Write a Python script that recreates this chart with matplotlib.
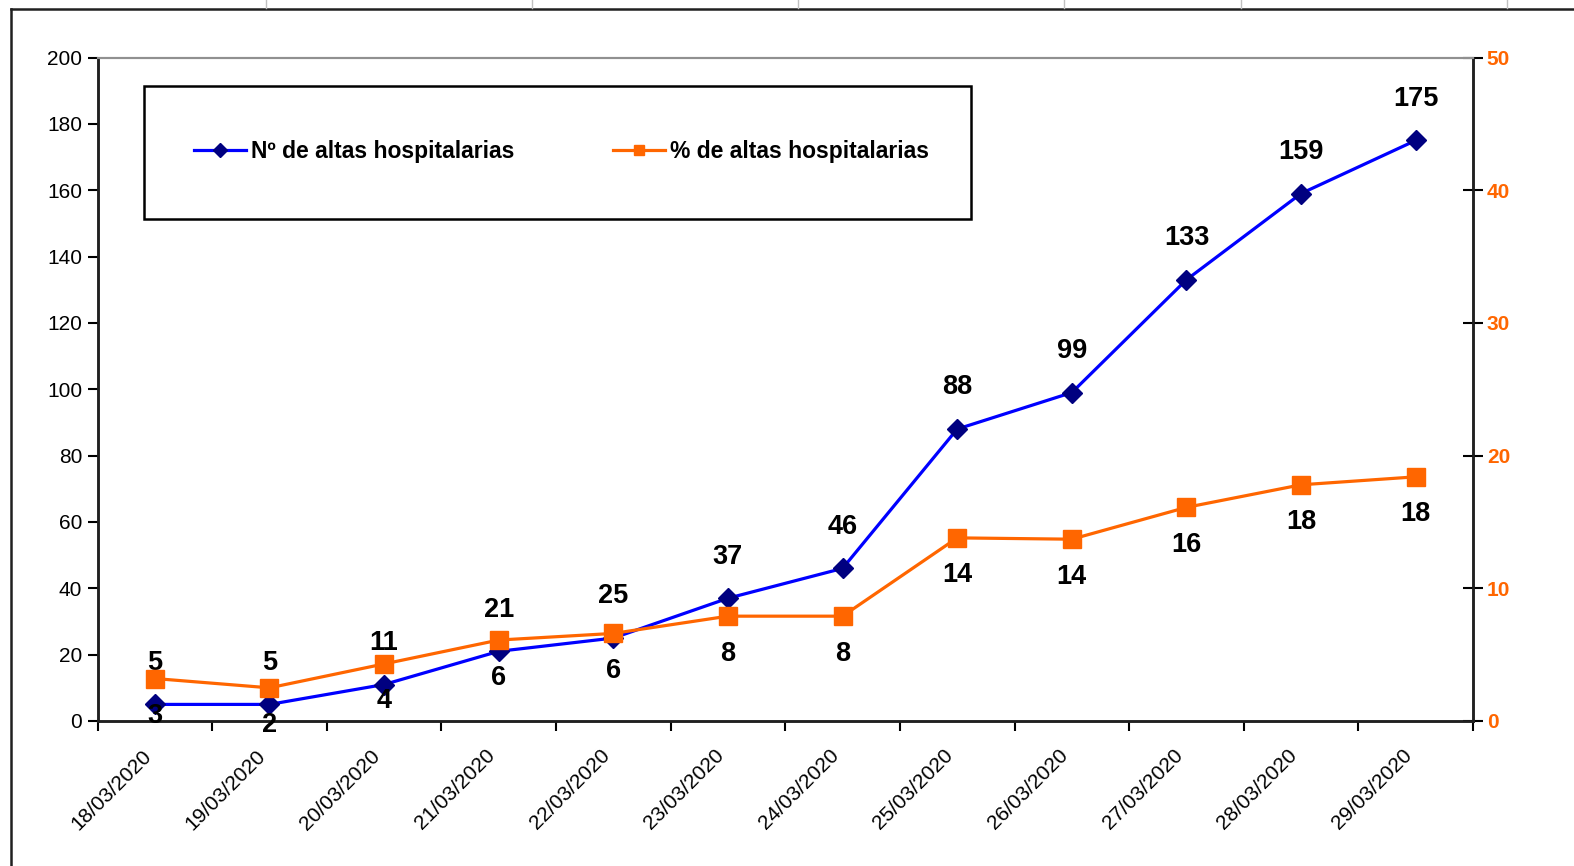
import matplotlib
matplotlib.use('Agg')
import matplotlib.pyplot as plt
from matplotlib.lines import Line2D
from matplotlib.patches import Rectangle

# datos del gráfico
fechas = ['18/03/2020', '19/03/2020', '20/03/2020', '21/03/2020', '22/03/2020', '23/03/2020',
          '24/03/2020', '25/03/2020', '26/03/2020', '27/03/2020', '28/03/2020', '29/03/2020']
altas = [5, 5, 11, 21, 25, 37, 46, 88, 99, 133, 159, 175]
pct_altas = [3.2, 2.5, 4.3, 6.1, 6.6, 7.9, 7.9, 13.8, 13.7, 16.1, 17.8, 18.4]
pct_etiquetas = [3, 2, 4, 6, 6, 8, 8, 14, 14, 16, 18, 18]
ticks_izq = [0, 20, 40, 60, 80, 100, 120, 140, 160, 180, 200]
ticks_der = [0, 10, 20, 30, 40, 50]

AZUL = '#0000FF'
AZUL_OSC = '#000080'
NARANJA = '#FF6600'

plt.rcParams['font.family'] = ['Liberation Sans', 'DejaVu Sans']

W, H = 1574, 866
fig = plt.figure(figsize=(W / 100, H / 100), dpi=100)
ax1 = fig.add_axes([97.5 / W, 1 - 721 / H, 1375.5 / W, 663.5 / H])
ax2 = ax1.twinx()

x = list(range(len(fechas)))

ax1.plot(x, altas, color=AZUL, lw=2.3, marker='D', ms=10.5,
         markerfacecolor=AZUL_OSC, markeredgecolor=AZUL_OSC, zorder=3)
ax2.plot(x, pct_altas, color=NARANJA, lw=2.3, marker='s', ms=13.5,
         markerfacecolor=NARANJA, markeredgecolor=NARANJA, zorder=3)

for xi, v in zip(x, altas):
    ax1.annotate(str(v), (xi, v), xytext=(0, 30), textcoords='offset points',
                 ha='center', va='center', fontsize=19.5, fontweight='bold',
                 color='black')
for xi, v, lab in zip(x, pct_altas, pct_etiquetas):
    ax2.annotate(str(lab), (xi, v), xytext=(0, -27), textcoords='offset points',
                 ha='center', va='center', fontsize=19.5, fontweight='bold',
                 color='black')

# ejes
ax1.set_xlim(-0.5, len(fechas) - 0.5)
ax1.set_ylim(0, 200)
ax2.set_ylim(0, 50)
ax1.set_yticks(ticks_izq)
ax2.set_yticks(ticks_der)
ax1.set_xticks([i - 0.5 for i in range(len(fechas) + 1)])
ax1.set_xticklabels([])
ax1.set_xticks(x, minor=True)
ax1.set_xticklabels(fechas, minor=True, rotation=45, ha='right', va='top',
                    fontsize=15)
ax1.tick_params(axis='x', which='major', direction='out', length=7, width=1.5)
ax1.tick_params(axis='x', which='minor', length=0, pad=18)
ax1.tick_params(axis='y', direction='out', length=7, width=1.5, labelsize=15, pad=4)
ax2.tick_params(axis='y', direction='inout', length=14, width=1.5, labelsize=15,
                labelcolor=NARANJA, pad=3)
for t in ax2.get_yticklabels():
    t.set_fontweight('bold')

for a in (ax1, ax2):
    a.spines['top'].set_color('#909090')
    a.spines['top'].set_linewidth(1.5)
    for s in ('left', 'right', 'bottom'):
        a.spines[s].set_linewidth(1.8)
        a.spines[s].set_color('#202020')

# leyenda
ax1.add_patch(Rectangle((46 / 1371, (718 - 218) / 661), 825 / 1371, 133 / 661,
                        transform=ax1.transAxes, fill=False, edgecolor='black',
                        lw=1.8, zorder=4))
handles = [Line2D([], [], color=AZUL, lw=2.3, marker='D', ms=7,
                  markerfacecolor=AZUL_OSC, markeredgecolor=AZUL_OSC),
           Line2D([], [], color=NARANJA, lw=2.3, marker='s', ms=7,
                  markerfacecolor=NARANJA, markeredgecolor=NARANJA)]
ax1.legend(handles, ['Nº de altas hospitalarias', '% de altas hospitalarias'],
           ncol=2, loc='center left', bbox_to_anchor=(96 / 1371, (718 - 151) / 661),
           frameon=False, borderpad=0, borderaxespad=0, handlelength=2.27,
           handletextpad=0.22, columnspacing=4.3,
           prop={'weight': 'bold', 'size': 16.5})

# marco de la hoja de cálculo
fig.add_artist(Line2D([11 / W, 11 / W], [0, 1 - 9 / H], transform=fig.transFigure,
                      color='#202020', lw=1.8))
fig.add_artist(Line2D([11 / W, 1], [1 - 9 / H, 1 - 9 / H], transform=fig.transFigure,
                      color='#202020', lw=1.8))
for gx in [266, 532, 798, 1064, 1241, 1507]:
    fig.add_artist(Line2D([gx / W, gx / W], [1 - 8 / H, 1], transform=fig.transFigure,
                          color='#C0C0C0', lw=1))

fig.savefig('out.png', dpi=100)
